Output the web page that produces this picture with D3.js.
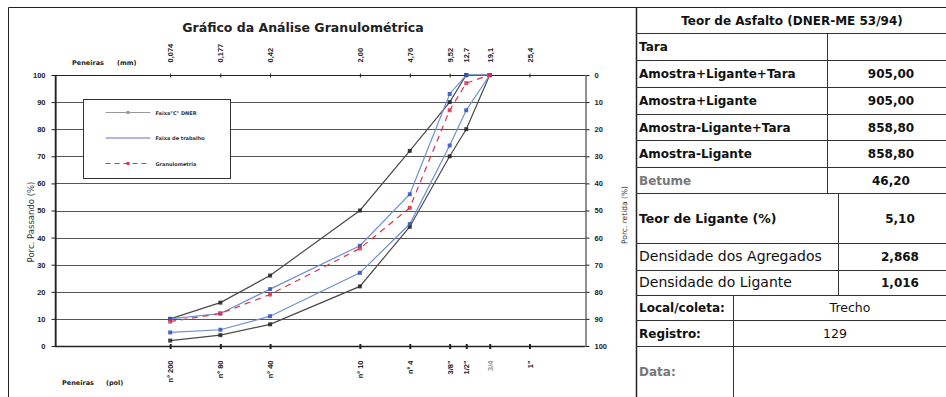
<!DOCTYPE html>
<html>
<head>
<meta charset="utf-8">
<script src="https://cdn.jsdelivr.net/npm/d3@7"></script>
<style>
body { margin: 0; background: #fff; }
svg { display: block; font-family: "DejaVu Sans", Verdana, sans-serif; }
</style>
</head>
<body>
<div id="chart"></div>
<script>
// peneiras (abertura em mm) onde as curvas tem pontos
var sieveMm = [0.074, 0.177, 0.42, 2.0, 4.76, 9.52, 12.7, 19.1]
var dnerMin = [2, 4, 8, 22, 44, 70, 80, 100]
var dnerMax = [10, 16, 26, 50, 72, 90, 100, 100]
var trabalhoMin = [5, 6, 11, 27, 45, 74, 87, 100]
var trabalhoMax = [10, 12, 21, 37, 56, 93, 100, 100]
var granulometria = [9, 12, 19, 36, 51, 87, 97, 100]

// eixos de peneiras (a ultima fica no lugar de 1 1/2")
var tickMm = [0.074, 0.177, 0.42, 2.0, 4.76, 9.52, 12.7, 19.1, 38.1]
var tickLabelMm = ["0,074", "0,177", "0,42", "2,00", "4,76", "9,52", "12,7", "19,1", "25,4"]
var tickLabelPol = ["nº 200", "nº 80", "nº 40", "nº 10", "nº 4", "3/8\"", "1/2\"", "3/4", "1\""]
var percentTicks = [0, 10, 20, 30, 40, 50, 60, 70, 80, 90, 100]

var legendLabels = ["Faixa\"C\"  DNER", "Faixa de trabalho", "Granulometria"]

// tabela
var tableTitle = "Teor de Asfalto (DNER-ME 53/94)"
var tableLabels = ["Tara", "Amostra+Ligante+Tara", "Amostra+Ligante", "Amostra-Ligante+Tara",
                   "Amostra-Ligante", "Betume", "Teor de Ligante (%)",
                   "Densidade dos Agregados", "Densidade do Ligante"]
var tableValues = ["", "905,00", "905,00", "858,80", "858,80", "46,20", "5,10", "2,868", "1,016"]
var infoLabels = ["Local/coleta:", "Registro:", "Data:"]
var infoValues = ["Trecho", "129", ""]

var W = 946, H = 397,
    PLOT = {left: 55, right: 585, top: 75, bottom: 346},
    INK = "#222"

var svg = d3.select("#chart").append("svg")
    .attr("width", W)
    .attr("height", H)

var x = d3.scaleLog().domain([0.01, 100]).range([PLOT.left, PLOT.right]),
    y = d3.scaleLinear().domain([0, 100]).range([PLOT.bottom, PLOT.top]),
    yRet = d3.scaleLinear().domain([0, 100]).range([PLOT.top, PLOT.bottom])

// moldura externa
svg.append("path")
    .attr("d", "M8.5," + H + "V7.5H" + W)
    .style("fill", "none")
    .style("stroke", INK)

svg.append("text")
    .attr("x", 303).attr("y", 32)
    .attr("text-anchor", "middle")
    .style("font-size", "12.5px")
    .style("font-weight", "bold")
    .style("fill", "#222")
    .text("Gráfico da Análise Granulométrica")

// grade
svg.append("g").selectAll("line")
    .data(percentTicks.slice(1, -1))
    .join("line")
    .attr("x1", PLOT.left).attr("x2", PLOT.right)
    .attr("y1", d => Math.round(y(d)) + 0.5).attr("y2", d => Math.round(y(d)) + 0.5)
    .style("stroke", "#555")

// eixos de porcentagem
function styleAxis(g) {
    g.select(".domain").style("stroke", INK)
    g.selectAll(".tick line").style("stroke", INK)
    g.selectAll(".tick text")
        .style("font-size", "7.5px")
        .style("font-weight", "bold")
        .style("fill", INK)
}

svg.append("g")
    .attr("transform", "translate(" + (PLOT.left + 0.5) + ",0)")
    .call(d3.axisLeft(y).tickValues(percentTicks).tickSize(4).tickSizeOuter(0).tickPadding(6))
    .call(styleAxis)

svg.append("g")
    .attr("transform", "translate(" + (PLOT.right + 0.5) + ",0)")
    .call(d3.axisRight(yRet).tickValues(percentTicks).tickSize(4).tickSizeOuter(0).tickPadding(5))
    .call(styleAxis)

// eixos de peneiras
var topAxis = svg.append("g")
    .attr("transform", "translate(0," + (PLOT.top + 0.5) + ")")
    .call(d3.axisTop(x).tickValues(tickMm).tickFormat((d, i) => tickLabelMm[i]).tickSize(3).tickSizeOuter(0))
    .call(styleAxis)
topAxis.select(".domain").attr("d", "M" + PLOT.left + ",0H" + PLOT.right)
topAxis.selectAll(".tick line").attr("y1", -2).attr("y2", 2)
topAxis.selectAll(".tick text")
    .attr("transform", "rotate(-90)")
    .attr("x", 13).attr("y", 0).attr("dy", "0.35em")
    .style("text-anchor", "start")
    .style("font-size", "7.5px")

var bottomAxis = svg.append("g")
    .attr("transform", "translate(0," + (PLOT.bottom + 0.5) + ")")
    .call(d3.axisBottom(x).tickValues(tickMm).tickFormat((d, i) => tickLabelPol[i]).tickSize(3).tickSizeOuter(0))
    .call(styleAxis)
bottomAxis.select(".domain").attr("d", "M" + PLOT.left + ",0H" + PLOT.right).style("stroke-width", 1.5)
bottomAxis.selectAll(".tick line").attr("y1", -2.5).attr("y2", 2.5).style("stroke-width", 2)
bottomAxis.selectAll(".tick text")
    .attr("transform", "rotate(-90)")
    .attr("x", -14).attr("y", 0).attr("dy", "0.35em")
    .style("text-anchor", "end")
    .style("font-size", "7.5px")
    .style("fill", (d, i) => i == 7 ? "#999" : INK)

svg.append("line")
    .attr("x1", PLOT.left).attr("x2", PLOT.left).attr("y1", PLOT.top).attr("y2", PLOT.bottom)
    .attr("transform", "translate(0.5,0)")
    .style("stroke", INK).style("stroke-width", 1.5)

// titulos dos eixos
function smallLabel(t, px, py) {
    return svg.append("text")
        .attr("x", px).attr("y", py)
        .style("font-size", "6.5px")
        .style("font-weight", "bold")
        .style("fill", INK)
        .text(t)
}
smallLabel("Peneiras", 72, 65)
smallLabel("(mm)", 117, 65)
smallLabel("Peneiras", 62, 385)
smallLabel("(pol)", 106, 385)

svg.append("text")
    .attr("transform", "translate(34,222) rotate(-90)")
    .attr("text-anchor", "middle")
    .style("font-size", "8.5px")
    .style("fill", "#333")
    .text("Porc. Passando (%)")

svg.append("text")
    .attr("transform", "translate(627,215) rotate(-90)")
    .attr("text-anchor", "middle")
    .style("font-size", "7.5px")
    .style("fill", "#333")
    .text("Porc. retida (%)")

// curvas
var line = d3.line()
    .x((d, i) => x(sieveMm[i]))
    .y(d => y(d))

var series = [
    {values: dnerMin, color: "#4a4a4a", dash: null, marker: "#222"},
    {values: dnerMax, color: "#4a4a4a", dash: null, marker: "#222"},
    {values: trabalhoMin, color: "#6f8fd0", dash: null, marker: "#3050c0"},
    {values: trabalhoMax, color: "#6f8fd0", dash: null, marker: "#3050c0"},
    {values: granulometria, color: "#e0304a", dash: "6,5", marker: "#e0304a"}
]

series.forEach(function(s) {
    svg.append("path")
        .datum(s.values)
        .attr("d", line)
        .style("fill", "none")
        .style("stroke", s.color)
        .style("stroke-width", 1.2)
        .style("stroke-dasharray", s.dash)
    svg.append("g").selectAll("rect")
        .data(s.values)
        .join("rect")
        .attr("x", (d, i) => x(sieveMm[i]) - 2)
        .attr("y", d => y(d) - 2)
        .attr("width", 4).attr("height", 4)
        .style("fill", s.marker)
        .style("opacity", 0.85)
})

// legenda
var legend = svg.append("g").attr("transform", "translate(83.5,99.5)")
legend.append("rect")
    .attr("width", 147).attr("height", 79)
    .style("fill", "#fff")
    .style("stroke", "#333")

var legendStyle = [
    {color: "#999", dash: null},
    {color: "#6a6ac8", dash: null},
    {color: "#e0304a", dash: "5,4"}
]
legend.selectAll("g.item")
    .data(legendLabels)
    .join("g")
    .attr("class", "item")
    .attr("transform", (d, i) => "translate(0," + (13 + i * 25.5) + ")")
    .each(function(d, i) {
        var g = d3.select(this)
        g.append("line")
            .attr("x1", 22).attr("x2", 67)
            .style("stroke", legendStyle[i].color)
            .style("stroke-dasharray", legendStyle[i].dash)
        if (i != 1) g.append("rect")
            .attr("x", 43).attr("y", -1.5).attr("width", 3).attr("height", 3)
            .style("fill", legendStyle[i].color)
        g.append("text")
            .attr("x", 72).attr("y", 2)
            .style("font-size", "5px")
            .style("font-weight", "bold")
            .style("fill", "#333")
            .text(d)
    })

// tabela do teor de asfalto
var T = {left: 636, right: W, split: 827, split2: 838, split3: 733},
    rowEdges = [7, 33, 60, 87, 114, 140, 167, 193, 243, 270, 295],
    infoEdges = [295, 320, 346, H]

var table = svg.append("g")
    .style("font-size", "12px")
    .style("fill", "#111")

table.append("path")
    .attr("d", "M" + (T.left + 0.5) + ",7V" + H)
    .style("stroke", INK).style("stroke-width", 1.5)

table.selectAll("line.row")
    .data(rowEdges.slice(1).concat(infoEdges.slice(1, -1)))
    .join("line")
    .attr("class", "row")
    .attr("x1", T.left).attr("x2", T.right)
    .attr("y1", d => d + 0.5).attr("y2", d => d + 0.5)
    .style("stroke", "#333")

table.append("text")
    .attr("x", (T.left + T.right) / 2 + 1).attr("y", 25)
    .attr("text-anchor", "middle")
    .style("font-weight", "bold")
    .text(tableTitle)

tableLabels.forEach(function(label, i) {
    var y0 = rowEdges[i + 1], y1 = rowEdges[i + 2],
        cy = (y0 + y1) / 2,
        sx = i < 6 ? T.split : T.split2
    table.append("line")
        .attr("x1", sx + 0.5).attr("x2", sx + 0.5)
        .attr("y1", y0).attr("y2", y1)
        .style("stroke", "#333")
    table.append("text")
        .attr("x", T.left + 3).attr("y", cy + 4.5)
        .style("font-weight", i == 7 || i == 8 ? "normal" : "bold")
        .style("font-size", i == 6 ? "12.5px" : (i >= 7 ? "14px" : "12px"))
        .style("fill", i == 5 ? "#777" : "#111")
        .text(label)
    table.append("text")
        .attr("x", i < 6 ? 891 : 900).attr("y", cy + 4.5)
        .attr("text-anchor", "middle")
        .style("font-weight", "bold")
        .text(tableValues[i])
})

infoLabels.forEach(function(label, i) {
    var y0 = infoEdges[i], y1 = infoEdges[i + 1],
        cy = (y0 + y1) / 2
    table.append("line")
        .attr("x1", T.split3 + 0.5).attr("x2", T.split3 + 0.5)
        .attr("y1", y0).attr("y2", y1)
        .style("stroke", "#333")
    table.append("text")
        .attr("x", T.left + 3).attr("y", cy + 4.5)
        .style("font-weight", "bold")
        .style("fill", i == 2 ? "#777" : "#111")
        .text(label)
    table.append("text")
        .attr("x", [850, 835, 850][i]).attr("y", cy + 4.5)
        .attr("text-anchor", "middle")
        .style("font-size", "12.5px")
        .text(infoValues[i])
})
</script>
</body>
</html>
